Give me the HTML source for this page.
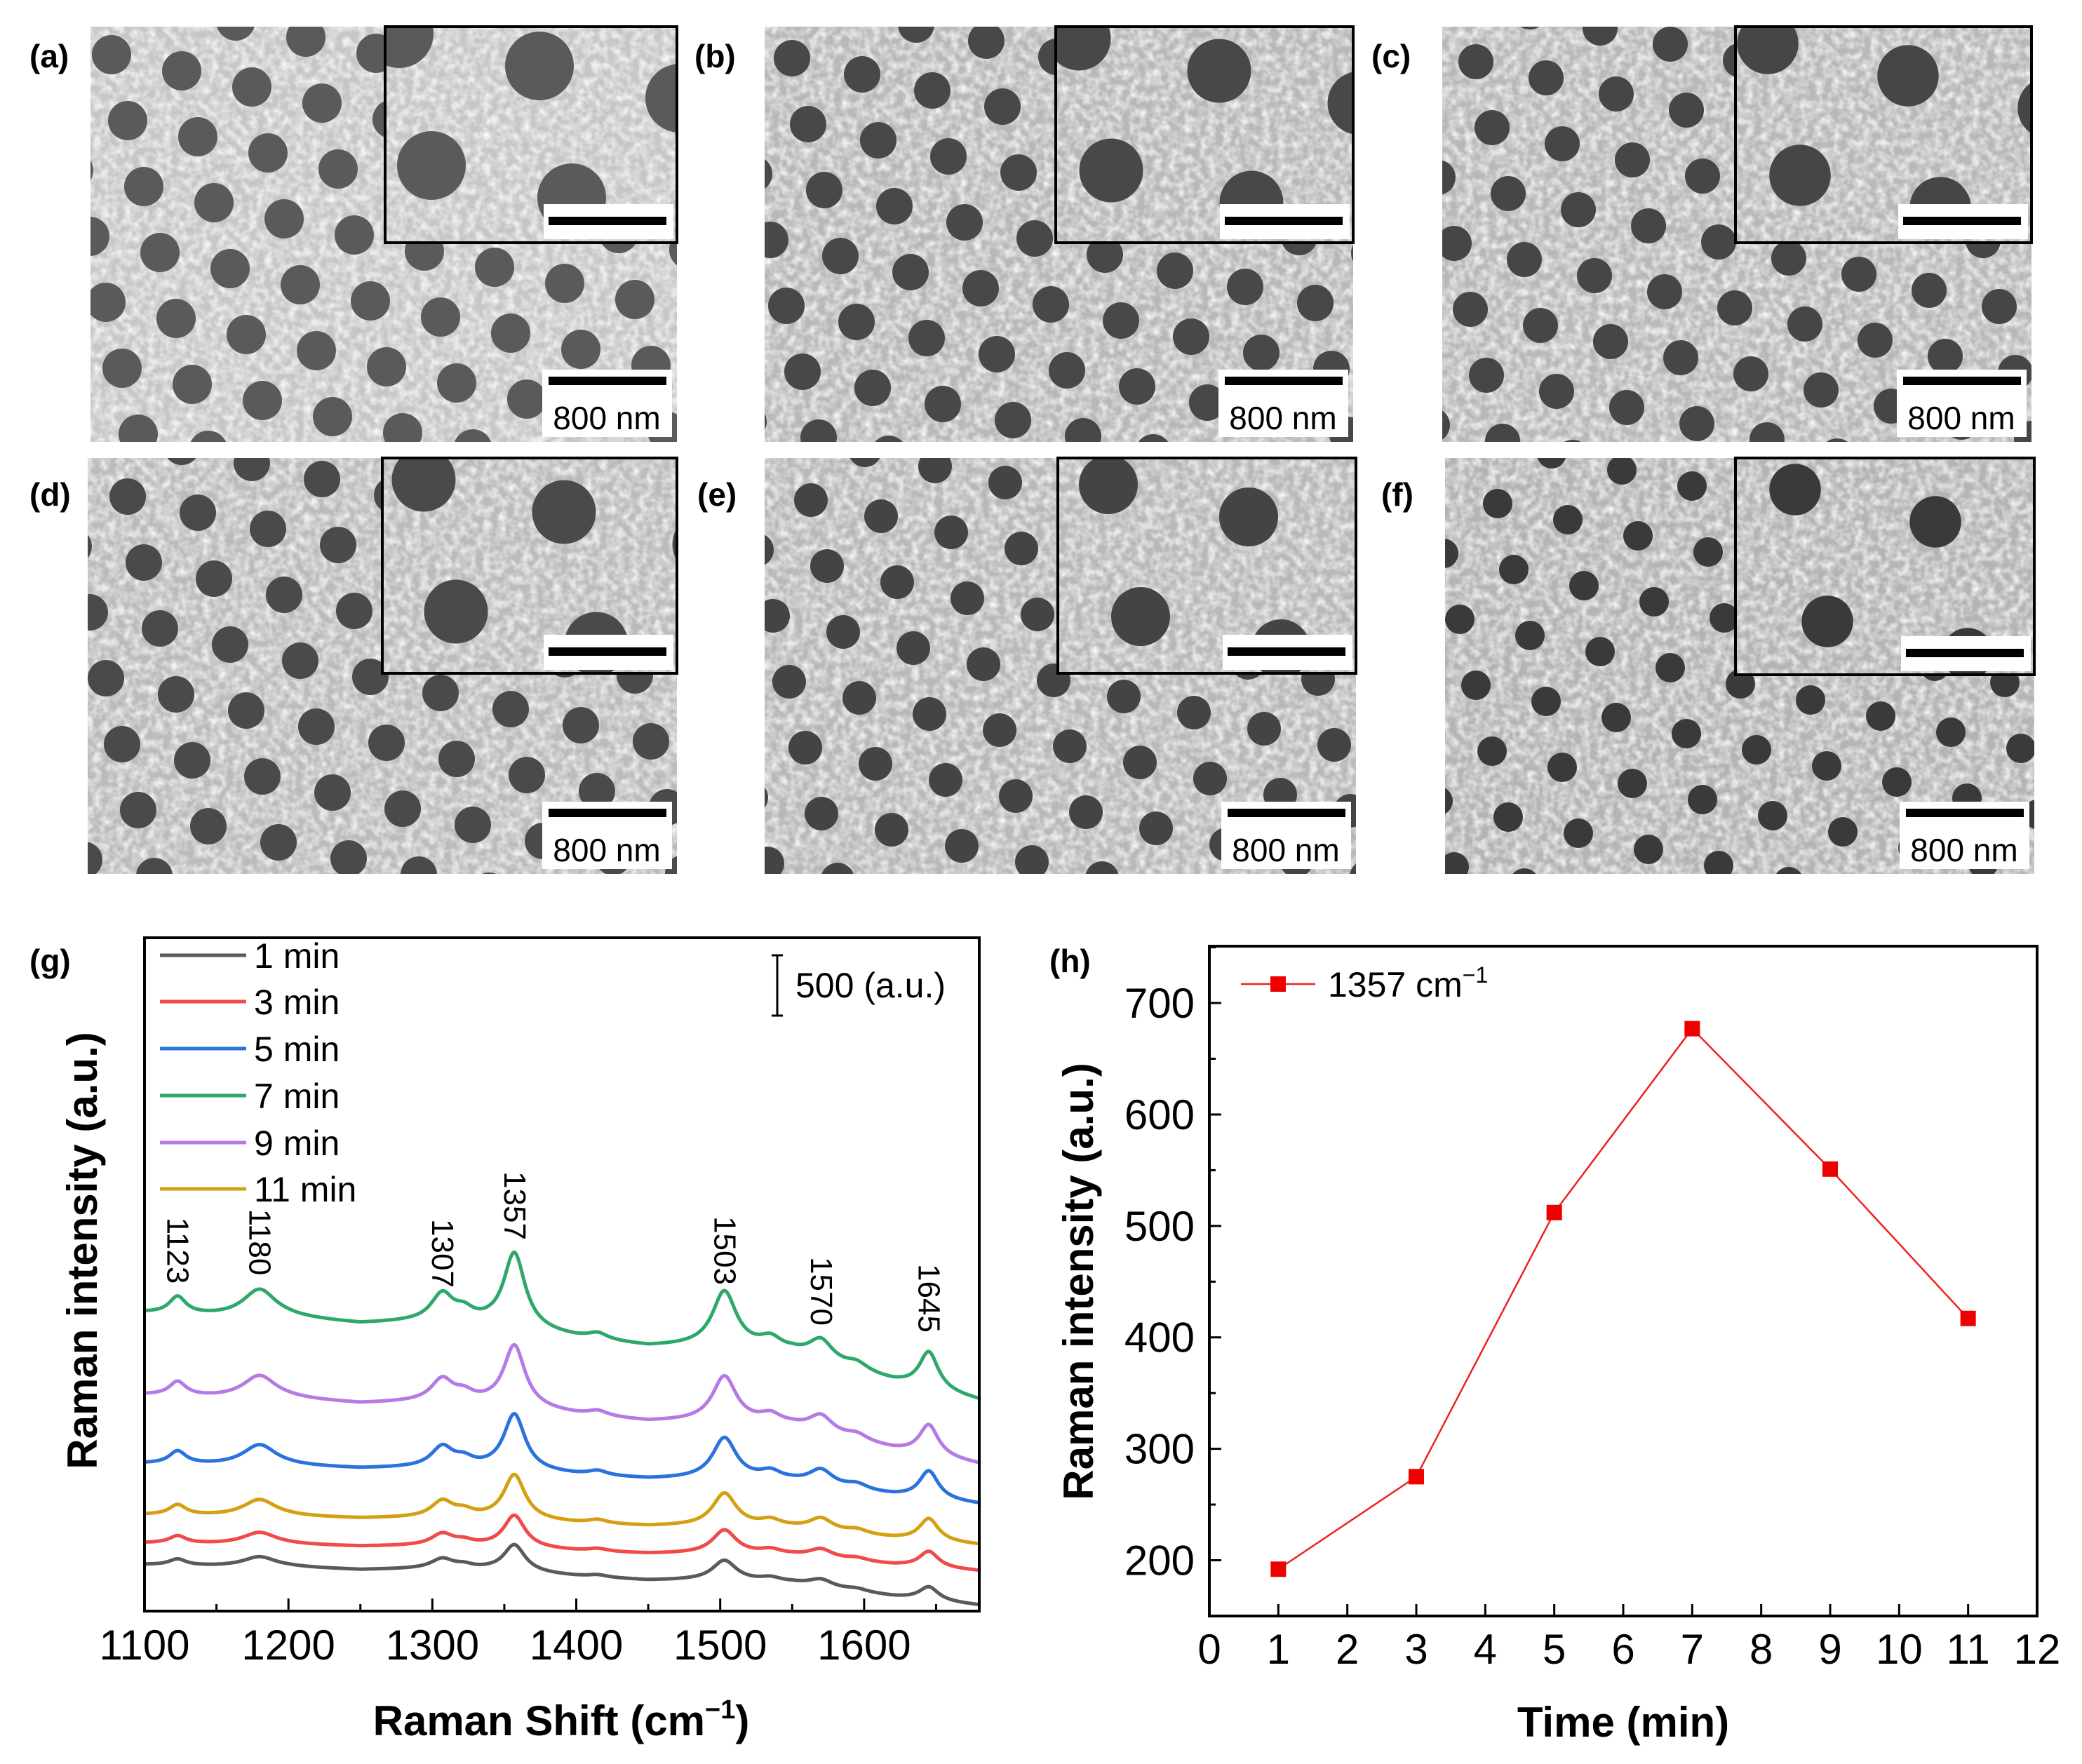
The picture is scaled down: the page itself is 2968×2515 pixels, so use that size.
<!DOCTYPE html>
<html><head><meta charset="utf-8"><style>
html,body{margin:0;padding:0;background:#fff}
svg{display:block}
text{font-family:"Liberation Sans",Arial,sans-serif}
</style></head><body>
<svg id="fig" xmlns="http://www.w3.org/2000/svg" width="2968" height="2515" viewBox="0 0 2968 2515">
<defs>
<filter id="grain" x="0" y="0" width="100%" height="100%">
<feTurbulence type="fractalNoise" baseFrequency="0.09" numOctaves="2" seed="3" result="n"/>
<feColorMatrix in="n" type="matrix" values="0 0 0 0 1  0 0 0 0 1  0 0 0 0 1  1.6 0 0 0 -0.55" result="w"/>
<feComposite in="w" in2="SourceGraphic" operator="in"/>
</filter>
<filter id="grainDark" x="0" y="0" width="100%" height="100%">
<feTurbulence type="fractalNoise" baseFrequency="0.06" numOctaves="2" seed="7" result="n"/>
<feColorMatrix in="n" type="matrix" values="0 0 0 0 0.25  0 0 0 0 0.25  0 0 0 0 0.25  1.8 0 0 0 -0.75" result="w"/>
<feComposite in="w" in2="SourceGraphic" operator="in"/>
</filter>
</defs>
<g id="sem"></g>
<g id="gchart"></g>
<g id="hchart"></g>
</svg>
<script>
// ---------- Panel (g) data ----------
const gSeriesNames = ["1 min","3 min","5 min","7 min","9 min","11 min"];
const gColors = ["#5a5a5a","#f04a4a","#2a72de","#2ea86a","#b57ae6","#d4a012"];
const gOffsets = [384,564,1221,2471,1791,797];      // a.u. baseline at 1100
const gDrops = [337,233,337,727,576,250];            // a.u. baseline decline to 1680
const gScales = [0.36,0.43,0.75,1.0,0.82,0.6];
const baseX = [1100,1150,1200,1250,1300,1340,1400,1450,1500,1550,1620,1680];
const baseFrac = [0,0.04,0.06,0.13,0.10,0.14,0.29,0.39,0.38,0.46,0.79,1];
const peakCenters = [1123,1180,1307,1322,1357,1415,1503,1535,1570,1595,1645];
const peakWidths = [7,14,9,8,9,8,10,9,10,9,8];
const peakAmps = [140,230,220,80,620,50,450,90,170,60,310];
const peakLabels = ["1123","1180","1307","1357","1503","1570","1645"];
const peakLabelY = [1783,1771,1787,1719,1783,1841,1851];
const gXTicks = [1100,1200,1300,1400,1500,1600];

// ---------- Panel (h) data ----------
const hTimes = [1,3,5,7,9,11];
const hValues = [192,275,512,677,551,417];
const hXTicks = [0,1,2,3,4,5,6,7,8,9,10,11,12];
const hYTicks = [200,300,400,500,600,700];

const NS="http://www.w3.org/2000/svg";
function mk(tag,attrs,parent){const e=document.createElementNS(NS,tag);for(const k in attrs)e.setAttribute(k,attrs[k]);parent.appendChild(e);return e;}

// ---------- SEM panels ----------
const sem=document.getElementById('sem');
const panels=[
 {l:"(a)",x0:129,x1:965,y0:38,y1:630,ix:549,iy:346,lx:42,ly:80,bg:"#c6c6c6",r:28,dark:"#5a5a5a"},
 {l:"(b)",x0:1090,x1:1929,y0:38,y1:630,ix:1505,iy:346,lx:990,ly:80,bg:"#b8b8b8",r:26,dark:"#484848"},
 {l:"(c)",x0:2056,x1:2896,y0:38,y1:630,ix:2474,iy:346,lx:1955,ly:80,bg:"#b8b8b8",r:25,dark:"#464646"},
 {l:"(d)",x0:125,x1:965,y0:653,y1:1246,ix:545,iy:960,lx:42,ly:705,bg:"#bbbbbb",r:26,dark:"#4a4a4a"},
 {l:"(e)",x0:1090,x1:1933,y0:653,y1:1246,ix:1508,iy:960,lx:994,ly:705,bg:"#b8b8b8",r:24,dark:"#444"},
 {l:"(f)",x0:2060,x1:2900,y0:653,y1:1246,ix:2474,iy:962,lx:1969,ly:705,bg:"#b4b4b4",r:21,dark:"#3a3a3a"}
];
function dots(g,x0,y0,x1,y1,s,r,col,ox,oy){
  for(let i=-12;i<14;i++)for(let j=-12;j<14;j++){
    const cx=x0+ox+i*100*s+j*23*s, cy=y0+oy+i*23*s+j*94*s;
    if(cx<x0-r*2||cx>x1+r*2||cy<y0-r*2||cy>y1+r*2)continue;
    mk('circle',{cx:cx,cy:cy,r:r,fill:col},g);
  }
}
panels.forEach((p,k)=>{
  const g=mk('g',{},sem);
  
  
  const cid='clip'+k, cid2='iclip'+k;
  const cp=mk('clipPath',{id:cid},g); mk('rect',{x:p.x0,y:p.y0,width:p.x1-p.x0,height:p.y1-p.y0},cp);
  const cp2=mk('clipPath',{id:cid2},g); mk('rect',{x:p.ix,y:p.y0,width:p.x1-p.ix,height:p.iy-p.y0},cp2);
  const m=mk('g',{'clip-path':'url(#'+cid+')'},g);
  mk('rect',{x:p.x0,y:p.y0,width:p.x1-p.x0,height:p.y1-p.y0,fill:p.bg},m);
  mk('rect',{x:p.x0,y:p.y0,width:p.x1-p.x0,height:p.y1-p.y0,fill:"#fff",filter:"url(#grain)"},m);
  dots(m,p.x0,p.y0,p.x1,p.y1,1,p.r,p.dark,30+k*9,40+k*5);
  // inset
  const ins=mk('g',{'clip-path':'url(#'+cid2+')'},g);
  mk('rect',{x:p.ix,y:p.y0,width:p.x1-p.ix,height:p.iy-p.y0,fill:p.bg},ins);
  mk('rect',{x:p.ix,y:p.y0,width:p.x1-p.ix,height:p.iy-p.y0,fill:"#fff",filter:"url(#grain)"},ins);
  dots(ins,p.ix,p.y0,p.x1,p.iy,2,p.r*1.75,p.dark,20+k*13,10+k*7);
  mk('rect',{x:p.x1-190,y:p.iy-55,width:185,height:50,fill:"#fff"},ins);
  mk('rect',{x:p.x1-183,y:p.iy-37,width:168,height:12,fill:"#000"},g);
  mk('rect',{x:p.ix,y:p.y0,width:p.x1-p.ix,height:p.iy-p.y0,fill:"none",stroke:"#000","stroke-width":4},g);
  // main scale bar
  mk('rect',{x:p.x1-192,y:p.y1-103,width:185,height:96,fill:"#fff"},g);
  mk('rect',{x:p.x1-183,y:p.y1-93,width:168,height:12,fill:"#000"},g);
  const t=mk('text',{x:p.x1-100,y:p.y1-18,'font-size':46,'text-anchor':'middle',fill:"#000"},g);
  t.textContent="800 nm";
  const lb=mk('text',{x:p.lx,y:p.ly+16,'font-size':46,'font-weight':'bold',fill:"#000"},sem);
  
  
  lb.textContent=p.l;
});

// ---------- Panel (g) ----------
const G=document.getElementById('gchart');
const gL=206,gR=1396,gT=1337,gB=2297,gXmin=1100,gXmax=1680,pxPerAU=0.172;
const gx=v=>gL+(v-gXmin)/(gXmax-gXmin)*(gR-gL);
const gy=v=>gB-v*pxPerAU;
function baseAt(x){for(let i=0;i<baseX.length-1;i++){if(x<=baseX[i+1]){const t=(x-baseX[i])/(baseX[i+1]-baseX[i]);return baseFrac[i]+t*(baseFrac[i+1]-baseFrac[i]);}}return 1;}
gSeriesNames.forEach((nm,s)=>{
  let d="";
  for(let x=gXmin;x<=gXmax;x+=1){
    let v=gOffsets[s]-gDrops[s]*baseAt(x);
    for(let k=0;k<peakCenters.length;k++){const w=peakWidths[k];const dx=x-peakCenters[k];v+=gScales[s]*peakAmps[k]*w*w/(dx*dx+w*w);}
    d+=(x===gXmin?"M":"L")+gx(x).toFixed(1)+","+gy(v).toFixed(1);
  }
  const p=mk('path',{d:d,fill:"none",stroke:gColors[s],"stroke-width":5},G);
  
  
});
mk('rect',{x:gL,y:gT,width:gR-gL,height:gB-gT,fill:"none",stroke:"#000","stroke-width":4},G);
for(let v=1100;v<=1650;v+=50){const major=(v%100===0);mk('line',{x1:gx(v),x2:gx(v),y1:gB,y2:gB-(major?18:10),stroke:"#000","stroke-width":3},G);}
gXTicks.forEach(v=>{const t=mk('text',{x:gx(v),y:2366,'font-size':60,'text-anchor':'middle'},G);
  t.textContent=v;});
peakLabels.forEach((lab,i)=>{const xx=gx(+lab);const t=mk('text',{x:xx,y:peakLabelY[i],'font-size':44,'text-anchor':'middle','dominant-baseline':'central',transform:`rotate(90 ${xx} ${peakLabelY[i]})`},G);
  t.textContent=lab;});
const legY=[1362,1428,1495,1562,1629,1695];
gSeriesNames.forEach((nm,s)=>{
  const l=mk('line',{x1:228,x2:351,y1:legY[s],y2:legY[s],stroke:gColors[s],"stroke-width":5},G);
  
  const t=mk('text',{x:362,y:legY[s]+18,'font-size':50},G);
  t.textContent=nm;
});
mk('line',{x1:1108,x2:1108,y1:1362,y2:1448,stroke:"#000","stroke-width":3},G);
mk('line',{x1:1100,x2:1116,y1:1362,y2:1362,stroke:"#000","stroke-width":3},G);
mk('line',{x1:1100,x2:1116,y1:1448,y2:1448,stroke:"#000","stroke-width":3},G);
{const t=mk('text',{x:1134,y:1422,'font-size':50},G);t.textContent="500 (a.u.)";}
{const t=mk('text',{x:800,y:2474,'font-size':60,'font-weight':'bold','text-anchor':'middle'},G);
 t.innerHTML='Raman Shift (cm<tspan dy="-24" font-size="38">−1</tspan><tspan dy="24">)</tspan>';}
{const t=mk('text',{x:0,y:0,'font-size':60,'font-weight':'bold','text-anchor':'middle',transform:'translate(138 1783) rotate(-90)'},G);t.textContent="Raman intensity (a.u.)";}
{const t=mk('text',{x:42,y:1386,'font-size':46,'font-weight':'bold'},G);t.textContent="(g)";}

// ---------- Panel (h) ----------
const H=document.getElementById('hchart');
const hL=1724,hR=2904,hT=1349,hB=2304,hXmin=0,hXmax=12,hYmin=150,hYmax=751;
const hx=v=>hL+(v-hXmin)/(hXmax-hXmin)*(hR-hL);
const hy=v=>hB-(v-hYmin)/(hYmax-hYmin)*(hB-hT);
mk('rect',{x:hL,y:hT,width:hR-hL,height:hB-hT,fill:"none",stroke:"#000","stroke-width":4},H);
hXTicks.forEach(v=>{mk('line',{x1:hx(v),x2:hx(v),y1:hB,y2:hB-17,stroke:"#000","stroke-width":3},H);
  const t=mk('text',{x:hx(v),y:2372,'font-size':60,'text-anchor':'middle'},H);t.textContent=v;});
for(let v=200;v<=750;v+=50){const major=(v%100===0);mk('line',{x1:hL,x2:hL+(major?17:9),y1:hy(v),y2:hy(v),stroke:"#000","stroke-width":3},H);}
hYTicks.forEach(v=>{const t=mk('text',{x:1703,y:hy(v)+21,'font-size':60,'text-anchor':'end'},H);t.textContent=v;});
{let d="";hTimes.forEach((t,i)=>{d+=(i?"L":"M")+hx(t)+","+hy(hValues[i]);});
 const p=mk('path',{d:d,fill:"none",stroke:"#f02020","stroke-width":2.5},H);}
hTimes.forEach((t,i)=>{const r=mk('rect',{x:hx(t)-11,y:hy(hValues[i])-11,width:22,height:22,fill:"#ee0000"},H);
  });
mk('line',{x1:1769,x2:1875,y1:1403,y2:1403,stroke:"#f02020","stroke-width":2.5},H);
mk('rect',{x:1811,y:1392,width:22,height:22,fill:"#ee0000"},H);
{const t=mk('text',{x:1893,y:1421,'font-size':50},H);
 t.innerHTML='1357 cm<tspan dy="-20" font-size="32">−1</tspan>';}
{const t=mk('text',{x:2314,y:2476,'font-size':60,'font-weight':'bold','text-anchor':'middle'},H);t.textContent="Time (min)";}
{const t=mk('text',{x:0,y:0,'font-size':60,'font-weight':'bold','text-anchor':'middle',transform:'translate(1558 1827) rotate(-90)'},H);t.textContent="Raman intensity (a.u.)";}
{const t=mk('text',{x:1496,y:1386,'font-size':46,'font-weight':'bold'},H);t.textContent="(h)";}
</script>
</body></html>
